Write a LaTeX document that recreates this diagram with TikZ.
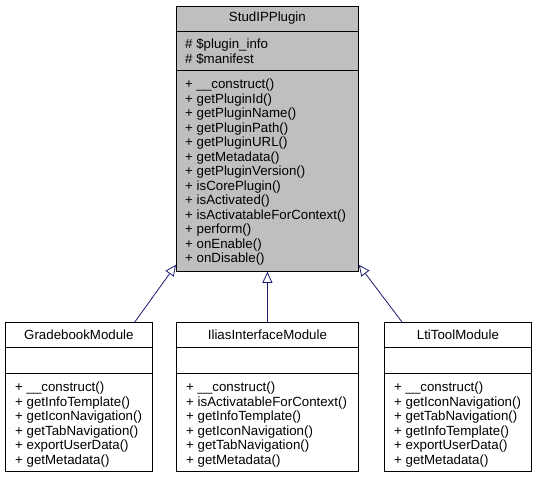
\documentclass[tikz,border=0pt]{standalone}
\usepackage{fontspec}
\setmainfont{Liberation Sans}
\usetikzlibrary{arrows.meta,calc}
\definecolor{edgeblue}{HTML}{191970}
\definecolor{basegray}{HTML}{BFBFBF}

\begin{document}
\begin{tikzpicture}[x=1pt,y=1pt,
    classbox/.style={draw, line width=0.8pt, anchor=north west, inner sep=0pt},
    classname/.style={inner sep=0pt, font=\fontsize{13.3}{14.5}\selectfont},
    member/.style={anchor=north west, align=left, inner sep=0pt, font=\fontsize{13.3}{14.5}\selectfont},
    inherit/.style={draw=edgeblue, line width=0.8pt, -{Triangle[open, length=11pt, width=10pt, fill=white]}}]
    \useasboundingbox (0,0) rectangle (536,-477);

    % Base class
    \node[classbox, fill=basegray, minimum width=182, minimum height=265] (plugin) at (176,-6) {};
    \draw[line width=0.8pt] ($(plugin.north west)+(0,-25)$) -- ($(plugin.north east)+(0,-25)$);
    \draw[line width=0.8pt] ($(plugin.north west)+(0,-64)$) -- ($(plugin.north east)+(0,-64)$);
    \node[classname] at ($(plugin.north)+(0,-12.5)$) {StudIPPlugin};
    \node[member, font=\fontsize{13.3}{15}\selectfont] at (185,-38) {\# \$plugin\_info\\\# \$manifest};
    \node[member] at (185,-79) {+ \_\_construct()\\+ getPluginId()\\+ getPluginName()\\+ getPluginPath()\\+ getPluginURL()\\+ getMetadata()\\+ getPluginVersion()\\+ isCorePlugin()\\+ isActivated()\\+ isActivatableForContext()\\+ perform()\\+ onEnable()\\+ onDisable()};

    % Derived classes
    \node[classbox, minimum width=147, minimum height=149] (grade) at (5,-322) {};
    \node[classbox, minimum width=182, minimum height=149] (ilias) at (176,-322) {};
    \node[classbox, minimum width=147, minimum height=149] (lti) at (384,-322) {};
    \foreach \cls in {grade,ilias,lti} {
        \draw[line width=0.8pt] ($(\cls.north west)+(0,-25)$) -- ($(\cls.north east)+(0,-25)$);
        \draw[line width=0.8pt] ($(\cls.north west)+(0,-51)$) -- ($(\cls.north east)+(0,-51)$);
    }
    \node[classname] at ($(grade.north)+(0,-12.5)$) {GradebookModule};
    \node[classname] at ($(ilias.north)+(0,-12.5)$) {IliasInterfaceModule};
    \node[classname] at ($(lti.north)+(0,-12.5)$) {LtiToolModule};
    \node[member] at ($(grade.north west)+(10,-60)$) {+ \_\_construct()\\+ getInfoTemplate()\\+ getIconNavigation()\\+ getTabNavigation()\\+ exportUserData()\\+ getMetadata()};
    \node[member] at ($(ilias.north west)+(10,-60)$) {+ \_\_construct()\\+ isActivatableForContext()\\+ getInfoTemplate()\\+ getIconNavigation()\\+ getTabNavigation()\\+ getMetadata()};
    \node[member] at ($(lti.north west)+(10,-60)$) {+ \_\_construct()\\+ getIconNavigation()\\+ getTabNavigation()\\+ getInfoTemplate()\\+ exportUserData()\\+ getMetadata()};

    % Inheritance
    \draw[inherit] ($(grade.north east)+(-18,0)$) -- ($(plugin.south west)+(0,7)$);
    \draw[inherit] (ilias.north) -- (plugin.south);
    \draw[inherit] ($(lti.north west)+(18,0)$) -- ($(plugin.south east)+(0,7)$);
\end{tikzpicture}
\end{document}
